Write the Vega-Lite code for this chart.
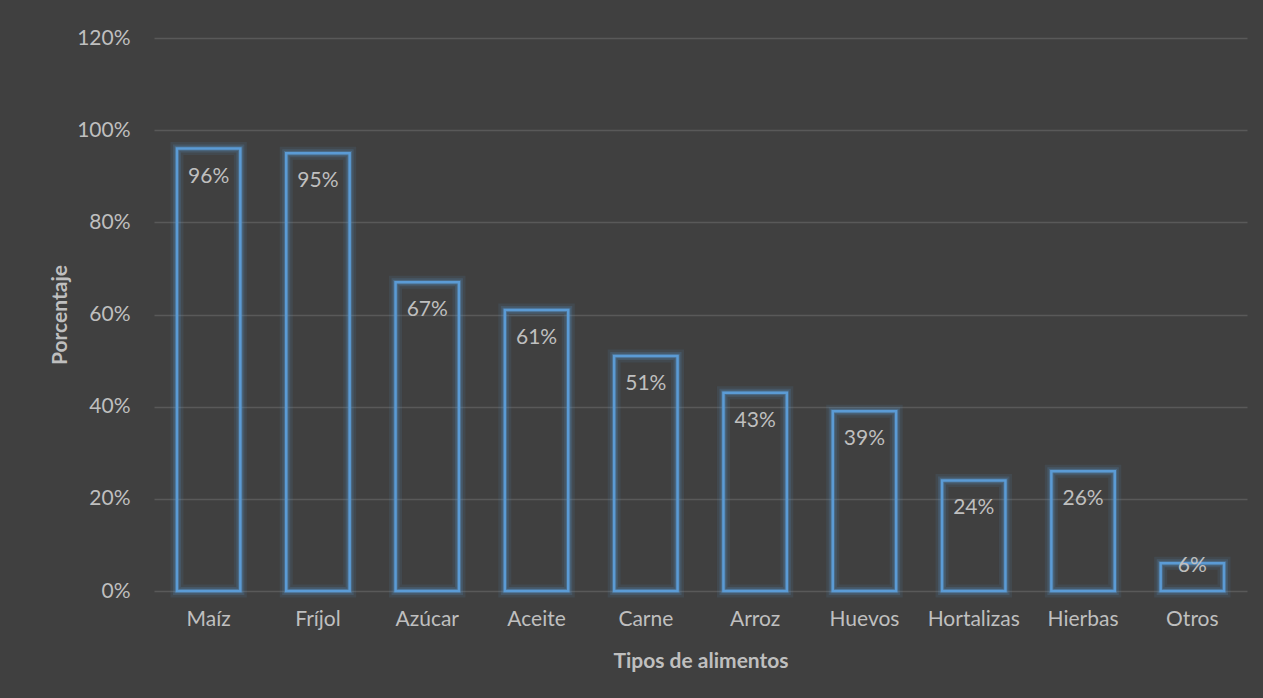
{
  "$schema": "https://vega.github.io/schema/vega-lite/v6.json",
  "autosize": {"type": "none"},
  "width": 1093,
  "height": 553,
  "padding": {"left": 154, "top": 38, "right": 16, "bottom": 107},
  "background": "#404040",
  "config": {
    "view": {"stroke": null},
    "font": "Lato",
    "axis": {"labelColor": "#bfbfbf", "titleColor": "#bfbfbf", "labelFont": "Lato", "titleFont": "Lato"}
  },
  "data": {
    "values": [
      {"alimento": "Maíz", "valor": 0.96},
      {"alimento": "Fríjol", "valor": 0.95},
      {"alimento": "Azúcar", "valor": 0.67},
      {"alimento": "Aceite", "valor": 0.61},
      {"alimento": "Carne", "valor": 0.51},
      {"alimento": "Arroz", "valor": 0.43},
      {"alimento": "Huevos", "valor": 0.39},
      {"alimento": "Hortalizas", "valor": 0.24},
      {"alimento": "Hierbas", "valor": 0.26},
      {"alimento": "Otros", "valor": 0.06}
    ]
  },
  "encoding": {
    "x": {
      "field": "alimento", "type": "nominal", "sort": null,
      "scale": {"paddingInner": 0.42, "paddingOuter": 0.21},
      "axis": {"title": "Tipos de alimentos", "labelAngle": 0, "labelFontSize": 21, "titleFontSize": 21, "titleFontWeight": "bold", "labelPadding": 17, "titlePadding": 21, "ticks": false, "domain": false, "grid": false}
    },
    "y": {
      "field": "valor", "type": "quantitative",
      "scale": {"domain": [0, 1.2]},
      "axis": {"title": "Porcentaje", "format": ".0%", "values": [0, 0.2, 0.4, 0.6, 0.8, 1.0, 1.2], "labelFontSize": 21, "titleFontSize": 21, "titleFontWeight": "bold", "labelPadding": 24, "titlePadding": 6, "ticks": false, "domain": false, "gridColor": "#595959", "gridWidth": 1.3, "labelOverlap": false}
    }
  },
  "layer": [
    {"mark": {"type": "bar", "fill": "transparent", "stroke": "#5B9BD5", "strokeWidth": 13, "strokeOpacity": 0.1}},
    {"mark": {"type": "bar", "fill": "transparent", "stroke": "#5B9BD5", "strokeWidth": 8, "strokeOpacity": 0.18}},
    {"mark": {"type": "bar", "fill": "transparent", "stroke": "#5B9BD5", "strokeWidth": 4.5, "strokeOpacity": 0.3}},
    {"mark": {"type": "bar", "fill": "transparent", "stroke": "#5B9BD5", "strokeWidth": 2.5}},
    {
      "mark": {"type": "text", "baseline": "middle", "fontSize": 21, "color": "#bfbfbf", "dy": {"expr": "datum.valor < 0.1 ? 3 : 28"}},
      "encoding": {"text": {"field": "valor", "type": "quantitative", "format": ".0%"}}
    }
  ]
}
